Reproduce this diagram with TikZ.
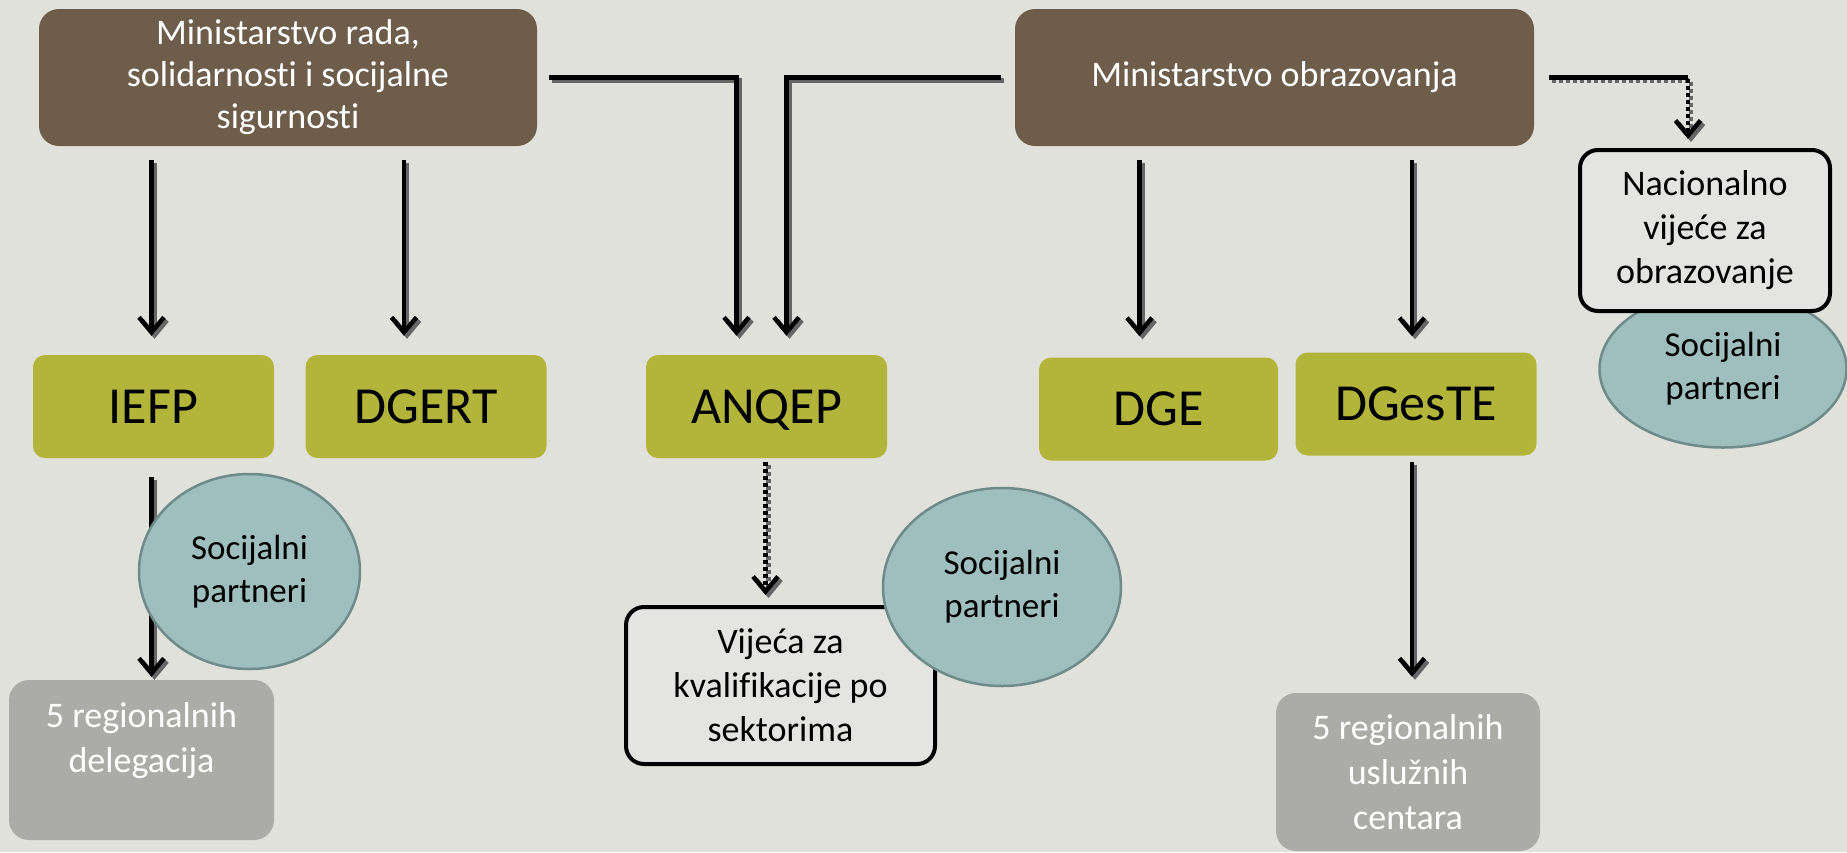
\documentclass[tikz,border=0pt]{standalone}
\usepackage{fontspec}
\setmainfont[Ligatures=NoCommon]{Carlito}
\usetikzlibrary{arrows.meta,shapes.geometric}

\definecolor{bgc}{HTML}{E0E1DB}
\definecolor{brownc}{HTML}{6E5D4A}
\definecolor{olivec}{HTML}{B3B53A}
\definecolor{tealc}{HTML}{9FBFBE}
\definecolor{tealline}{HTML}{6E8B8A}
\definecolor{greyc}{HTML}{ABACA7}
\definecolor{lightc}{HTML}{E4E4E2}

\begin{document}
\begin{tikzpicture}[x=1pt,y=-1pt,
    ministry/.style={rectangle, rounded corners=20pt, fill=brownc, text=white, align=center,
        minimum height=137pt, font=\fontsize{36}{42}\selectfont},
    agency/.style={rectangle, rounded corners=12pt, fill=olivec, minimum width=241pt,
        minimum height=103pt, text depth=0pt, font=\fontsize{52}{60}\selectfont},
    council/.style={rectangle, draw=black, line width=4pt, rounded corners=18pt, fill=lightc,
        align=center, font=\fontsize{36}{44}\selectfont},
    partner/.style={ellipse, draw=tealline, line width=2.5pt, fill=tealc, inner sep=0pt,
        align=center, font=\fontsize{35}{43}\selectfont},
    regional/.style={rectangle, rounded corners=20pt, fill=greyc, text=white, align=center,
        font=\fontsize{36}{45}\selectfont},
    conn/.style={line width=4.5pt, -{Straight Barb[length=15pt,width=25pt]}},
    dotconn/.style={conn, dash pattern=on 4pt off 3pt}
]
\fill[bgc] (0,0) rectangle (1847,852);
\useasboundingbox (0,0) rectangle (1847,852);

\node[ministry, minimum width=498pt] (mrada) at (288,77.5) {Ministarstvo rada,\\solidarnosti i socijalne\\sigurnosti};
\node[ministry, minimum width=519pt] (mobr) at (1274.5,77.5) {Ministarstvo obrazovanja};

\node[agency] (iefp) at (153.5,406.5) {IEFP};
\node[agency] (dgert) at (426,406.5) {DGERT};
\node[agency] (anqep) at (766.5,406.5) {ANQEP};
\node[agency, minimum width=239pt] (dge) at (1158.5,409) {DGE};
\node[agency] (dgeste) at (1416,404) {DGesTE};

\node[partner, minimum width=247pt, minimum height=157pt] (sp3) at (1723,369) {Socijalni\\partneri};
\node[council, minimum width=250pt, minimum height=161pt] (nvo) at (1705,230.5) {Nacionalno\\vijeće za\\obrazovanje};
\node[council, minimum width=309pt, minimum height=157pt] (vkp) at (780.5,685.5) {Vijeća za\\kvalifikacije po\\sektorima};

\node[regional, minimum width=265pt, minimum height=160pt] (rdel) at (141.5,760) {5 regionalnih\\delegacija\\\mbox{}};
\node[regional, minimum width=264pt, minimum height=158pt] (rusl) at (1408,772) {5 regionalnih\\uslužnih\\centara};

\coordinate (c1) at ([xshift=-2pt]iefp.north);
\coordinate (c2) at ([xshift=-22pt]dgert.north);
\coordinate (c3) at ([xshift=-30pt]anqep.north);
\coordinate (c4) at ([xshift=20pt]anqep.north);
\coordinate (c5) at ([xshift=-19pt]dge.north);
\coordinate (c6) at ([xshift=-4pt]dgeste.north);
\coordinate (c7) at ([xshift=-17pt]nvo.north);

% shadow pass first, then the black arrows
\foreach \sh/\col in {3pt/black!60, 0pt/black} {
  \begin{scope}[transform canvas={shift={(\sh,-\sh)}}, draw=\col]
    % ministries down to the agencies
    \draw[conn, shorten <=14pt, shorten >=19pt] (c1 |- mrada.south) -- (c1);
    \draw[conn, shorten <=14pt, shorten >=19pt] (c2 |- mrada.south) -- (c2);
    \draw[conn, shorten >=19pt] ([xshift=12pt]mrada.east) -| (c3);
    \draw[conn, shorten >=19pt] ([xshift=-14pt]mobr.west) -| (c4);
    \draw[conn, shorten <=14pt, shorten >=21pt] (c5 |- mobr.south) -- (c5);
    \draw[conn, shorten <=14pt, shorten >=16pt] (c6 |- mobr.south) -- (c6);
    \draw[dotconn, shorten >=9pt] ([xshift=15pt]mobr.east) -| (c7);
    % agencies down to their bodies
    \draw[conn, shorten <=19pt, shorten >=3pt] (c1 |- iefp.south) -- (c1 |- rdel.north);
    \draw[dotconn, shorten <=4pt, shorten >=10pt] ([xshift=-1pt]anqep.south) -- ([xshift=-1pt]anqep.south |- vkp.north);
    \draw[conn, shorten <=6pt, shorten >=16pt] (c6 |- dgeste.south) -- (c6 |- rusl.north);
  \end{scope}
}
% solid top edge of the dotted link
\draw[line width=4.5pt] ([xshift=15pt]mobr.east) -- (c7 |- mobr.east);

\node[partner, minimum width=221pt, minimum height=195pt] (sp1) at (249.5,571.5) {Socijalni\\partneri};
\node[partner, minimum width=238pt, minimum height=198pt] (sp2) at (1002,587) {Socijalni\\partneri};
\end{tikzpicture}
\end{document}
